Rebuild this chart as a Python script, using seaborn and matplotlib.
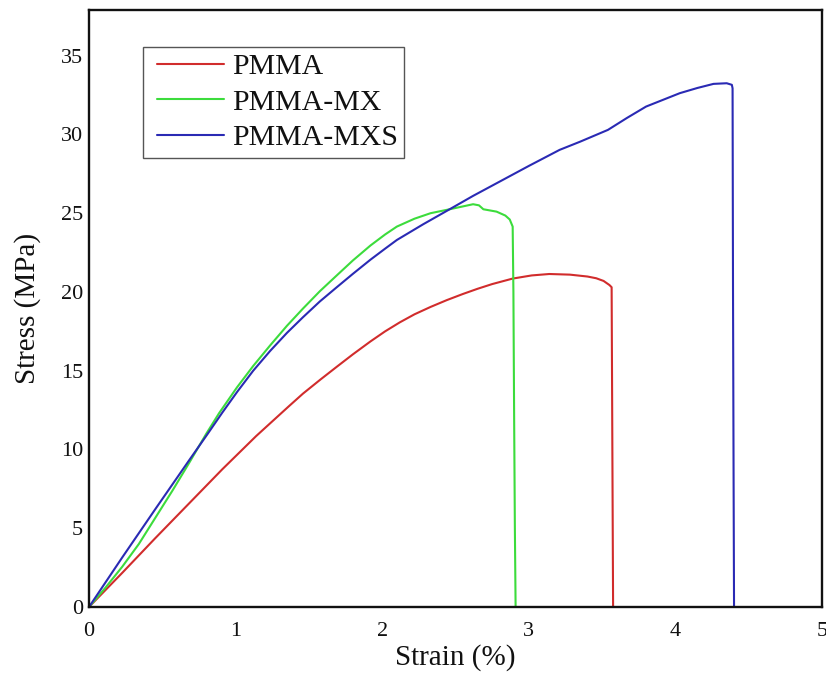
import numpy as np
import pandas as pd
import matplotlib
matplotlib.use("Agg")
import matplotlib.pyplot as plt
from matplotlib.lines import Line2D
from matplotlib.legend_handler import HandlerLine2D
import seaborn as sns

# ---- data ----
series_names = ["PMMA", "PMMA-MX", "PMMA-MXS"]

pmma_strain = [0.0, 0.23, 0.45, 0.68, 0.91, 1.14, 1.364, 1.46, 1.58, 1.69, 1.80, 1.92,
               2.02, 2.12, 2.22, 2.33, 2.44, 2.55, 2.65, 2.75, 2.89, 3.02, 3.14, 3.28,
               3.40, 3.46, 3.51, 3.55, 3.565, 3.57, 3.575]
pmma_stress = [0.0, 2.2, 4.35, 6.55, 8.75, 10.85, 12.75, 13.55, 14.45, 15.25, 16.04, 16.86,
               17.5, 18.07, 18.58, 19.05, 19.48, 19.87, 20.2, 20.5, 20.85, 21.05, 21.14, 21.1,
               20.98, 20.87, 20.7, 20.44, 20.3, 10.0, 0.0]

mx_strain = [0.0, 0.11, 0.227, 0.34, 0.455, 0.57, 0.68, 0.80, 0.887, 1.01, 1.12, 1.235,
             1.35, 1.46, 1.575, 1.69, 1.80, 1.92, 2.02, 2.10, 2.22, 2.33, 2.46, 2.56, 2.62,
             2.66, 2.69, 2.78, 2.84, 2.87, 2.89, 2.895, 2.90, 2.905, 2.91]
mx_stress = [0.0, 1.2, 2.56, 4.0, 5.7, 7.4, 9.1, 11.0, 12.3, 13.95, 15.3, 16.6,
             17.85, 18.95, 20.05, 21.05, 22.0, 22.95, 23.65, 24.15, 24.65, 25.0, 25.25, 25.45,
             25.57, 25.5, 25.25, 25.10, 24.85, 24.6, 24.15, 20.0, 12.0, 5.0, 0.0]

mxs_strain = [0.0, 0.227, 0.455, 0.682, 0.81, 0.91, 1.01, 1.12, 1.235, 1.35, 1.46, 1.575,
              1.69, 1.80, 1.92, 2.02, 2.10, 2.28, 2.46, 2.62, 2.78, 3.00, 3.21, 3.35, 3.54,
              3.67, 3.80, 4.03, 4.15, 4.26, 4.35, 4.385, 4.39, 4.393, 4.397, 4.40]
mxs_stress = [0.0, 3.15, 6.25, 9.3, 11.0, 12.35, 13.65, 15.0, 16.25, 17.4, 18.4, 19.4,
              20.3, 21.15, 22.05, 22.75, 23.3, 24.3, 25.25, 26.1, 26.9, 28.0, 29.02, 29.54,
              30.29, 31.05, 31.77, 32.62, 32.95, 33.21, 33.25, 33.15, 32.93, 20.0, 8.0, 0.0]

x_ticks = [0, 1, 2, 3, 4, 5]
y_ticks = [0, 5, 10, 15, 20, 25, 30, 35]
colors = ["#d12c2c", "#3cdc3c", "#2a2ab4"]

frames = []
for name, xs, ys in [(series_names[0], pmma_strain, pmma_stress),
                     (series_names[1], mx_strain, mx_stress),
                     (series_names[2], mxs_strain, mxs_stress)]:
    frames.append(pd.DataFrame({"strain": xs, "stress": ys, "series": name}))
df = pd.concat(frames, ignore_index=True)

sns.set_theme(style="white")
plt.rcParams["font.family"] = ["Liberation Serif", "DejaVu Serif"]

fig = plt.figure(figsize=(8.26, 6.79), dpi=100)
ax = fig.add_axes([89 / 826, (679 - 607) / 679, (822 - 89) / 826, (607 - 10) / 679])

sns.lineplot(data=df, x="strain", y="stress", hue="series", hue_order=series_names,
             palette=colors, sort=False, estimator=None, linewidth=1.5, ax=ax)

ax.set_xlim(0, 5)
ax.set_ylim(0, 37.9)
ax.set_xticks(x_ticks)
ax.set_yticks(y_ticks)
ax.set_xticklabels([str(v) for v in x_ticks])
ax.set_yticklabels([str(v) for v in y_ticks])
ax.tick_params(axis="both", length=0, labelsize=16, colors="#111111")
ax.tick_params(axis="x", pad=11)
ax.tick_params(axis="y", pad=4.3)

for s in ax.spines.values():
    s.set_visible(True)
    s.set_color("#111111")
    s.set_linewidth(1.7)

ax.set_xlabel("Strain (%)", fontsize=21, color="#111111")
ax.set_ylabel("Stress (MPa)", fontsize=21, color="#111111")
ax.xaxis.set_label_coords(0.5, -0.062)
ax.yaxis.set_label_coords(-0.066, 0.5)


class InsetLineHandler(HandlerLine2D):
    """Line handle drawn with a small left inset (as in the reference legend)."""
    def __init__(self, inset_pt=5.5, **kw):
        super().__init__(**kw)
        self.inset_pt = inset_pt

    def create_artists(self, legend, orig_handle, xdescent, ydescent, width, height,
                       fontsize, trans):
        artists = super().create_artists(legend, orig_handle, xdescent, ydescent,
                                         width, height, fontsize, trans)
        for a in artists:
            xd = np.asarray(a.get_xdata(), dtype=float)
            if len(xd) >= 2:
                a.set_xdata(np.linspace(xd[0] + self.inset_pt, xd[-1], len(xd)))
        return artists


handles, labels = ax.get_legend_handles_labels()
leg = ax.legend(handles, labels, loc="upper left",
                bbox_to_anchor=((143 - 89) / 733, (607 - 47) / 597),
                borderaxespad=0, fontsize=21.5, handlelength=2.5, handletextpad=0.27,
                labelspacing=0.29, borderpad=0.214, frameon=True, fancybox=False,
                framealpha=1, edgecolor="#555555",
                handler_map={Line2D: InsetLineHandler(inset_pt=5.5)})
leg.get_frame().set_linewidth(1.0)
for t in leg.get_texts():
    t.set_color("#111111")

fig.savefig("out.png", dpi=100)
